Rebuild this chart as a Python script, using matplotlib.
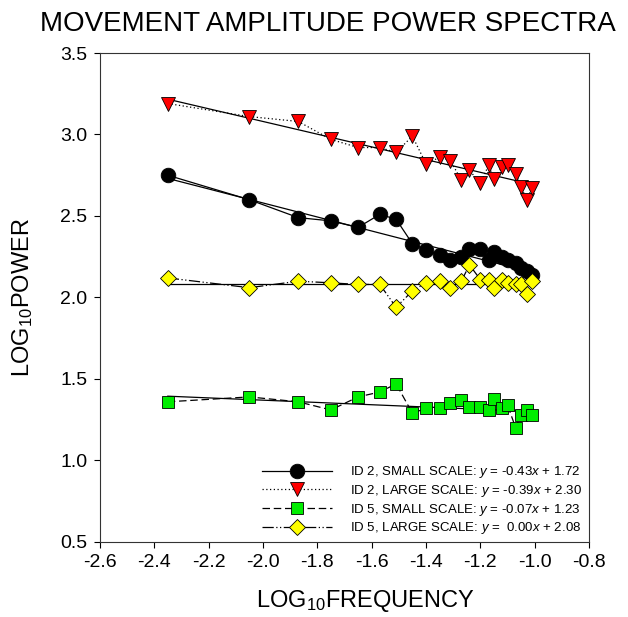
import matplotlib
matplotlib.use("Agg")
import matplotlib.pyplot as plt

plt.rcParams['font.family'] = ['Liberation Sans', 'DejaVu Sans']
plt.rcParams['mathtext.fontset'] = 'custom'
plt.rcParams['mathtext.rm'] = 'Liberation Sans'
plt.rcParams['mathtext.it'] = 'Liberation Sans:italic'
plt.rcParams['mathtext.default'] = 'it'

# log10 frequency (shared by all four series)
log_freq = [-2.35, -2.05, -1.87, -1.75, -1.65, -1.57, -1.51, -1.45, -1.40, -1.35, -1.31,
            -1.27, -1.24, -1.20, -1.17, -1.15, -1.12, -1.10, -1.07, -1.05, -1.03, -1.01]

# log10 power per series
id2_small = [2.75, 2.60, 2.49, 2.47, 2.43, 2.51, 2.48, 2.33, 2.29, 2.26, 2.23,
             2.25, 2.30, 2.30, 2.23, 2.28, 2.25, 2.23, 2.21, 2.18, 2.16, 2.14]
id2_large = [3.19, 3.11, 3.08, 2.97, 2.92, 2.92, 2.89, 2.99, 2.82, 2.86, 2.84,
             2.72, 2.78, 2.70, 2.81, 2.73, 2.80, 2.81, 2.76, 2.68, 2.60, 2.67]
id5_small = [1.36, 1.39, 1.36, 1.31, 1.39, 1.42, 1.47, 1.29, 1.32, 1.32, 1.35,
             1.37, 1.33, 1.33, 1.31, 1.38, 1.32, 1.34, 1.20, 1.28, 1.31, 1.28]
id5_large = [2.12, 2.06, 2.10, 2.09, 2.08, 2.08, 1.94, 2.04, 2.09, 2.10, 2.06,
             2.10, 2.20, 2.11, 2.11, 2.06, 2.11, 2.09, 2.08, 2.08, 2.02, 2.10]

# regression fits as printed in the legend
slopes = [-0.43, -0.39, -0.07, 0.00]
intercepts = [1.72, 2.30, 1.23, 2.08]
labels = ['ID 2, SMALL SCALE: $y$ = -0.43$x$ + 1.72',
          'ID 2, LARGE SCALE: $y$ = -0.39$x$ + 2.30',
          'ID 5, SMALL SCALE: $y$ = -0.07$x$ + 1.23',
          'ID 5, LARGE SCALE: $y$ =  0.00$x$ + 2.08']

series = [id2_small, id2_large, id5_small, id5_large]
markers = ['o', 'v', 's', 'D']
colors = ['black', 'red', '#00ee00', 'yellow']
sizes = [10.5, 10, 8.5, 8.5]
styles = ['-', (0, (1, 2)), (0, (6, 3)), (0, (9, 2, 1, 2, 1, 2))]

fig = plt.figure(figsize=(6.28, 6.17), dpi=100)
ax = fig.add_axes([0.159, 0.1216, 0.779, 0.7925])

xr = [min(log_freq), max(log_freq)]
for m, b in zip(slopes, intercepts):
    ax.plot(xr, [m * xv + b for xv in xr], color='black', lw=0.9, zorder=2)

for ys, mk, c, s, ls, lab in zip(series, markers, colors, sizes, styles, labels):
    ax.plot(log_freq, ys, linestyle=ls, color='black', lw=0.9, marker=mk,
            markerfacecolor=c, markeredgecolor='black', markeredgewidth=0.6,
            markersize=s, label=lab, zorder=3)

ax.set_xlim(-2.6, -0.8)
ax.set_ylim(0.5, 3.5)
ax.set_xticks([-2.6, -2.4, -2.2, -2.0, -1.8, -1.6, -1.4, -1.2, -1.0, -0.8])
ax.set_yticks([0.5, 1.0, 1.5, 2.0, 2.5, 3.0, 3.5])
ax.xaxis.set_major_formatter(matplotlib.ticker.FormatStrFormatter('%.1f'))
ax.yaxis.set_major_formatter(matplotlib.ticker.FormatStrFormatter('%.1f'))
ax.tick_params(direction='out', length=4, width=0.8, labelsize=14, pad=5)
for sp in ax.spines.values():
    sp.set_linewidth(0.8)
    sp.set_color('#333333')

ax.set_xlabel('LOG$_{\\mathrm{10}}$FREQUENCY', fontsize=17, labelpad=10)
ax.xaxis.set_label_coords(0.542, -0.095)
ax.set_ylabel('LOG$_{\\mathrm{10}}$POWER', fontsize=17, labelpad=18)
fig.text(0.522, 0.950, 'MOVEMENT AMPLITUDE POWER SPECTRA', fontsize=20,
         ha='center', va='baseline')

ax.legend(loc='upper left', bbox_to_anchor=(0.331, 0.159), frameon=False,
          fontsize=9.5, handlelength=5.3, handletextpad=1.35, labelspacing=0.2,
          borderpad=0, borderaxespad=0)

fig.savefig('out.png', dpi=100)
